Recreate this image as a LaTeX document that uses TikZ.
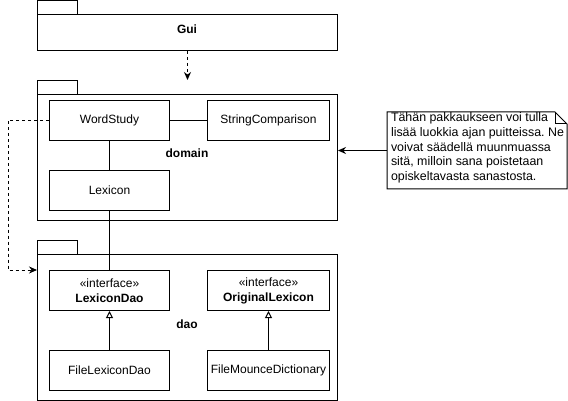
\documentclass[tikz,border=0pt]{standalone}
\usepackage{fontspec}
\setmainfont{Liberation Sans}
\usetikzlibrary{arrows.meta,positioning}

\begin{document}
\begin{tikzpicture}[x=1pt,y=-1pt,line width=1pt,
    font=\fontsize{12}{15}\selectfont]
    \tikzset{pkgtab/.style={draw,anchor=north west,inner sep=0pt,
        minimum width=40pt,minimum height=14pt},
      pkgbody/.style={draw,anchor=north west,inner sep=0pt,
        minimum width=300pt},
      cls/.style={draw,anchor=north west,inner sep=0pt,
        minimum height=40pt,align=center},
      pkgname/.style={font=\fontsize{12}{15}\selectfont\bfseries},
      dep/.style={dash pattern=on 3pt off 3pt,-{Stealth[length=8pt,width=7pt]}},
      realize/.style={-{Triangle[open,length=7pt,width=7pt]}}}
    \useasboundingbox (0,0) rectangle (568,401);
    % packages
    \node[pkgtab] (guitab) at (37,0) {};
    \node[pkgbody,minimum height=36pt] (gui) at (37,14) {};
    \node[pkgname] at (187,29) {Gui};
    \node[pkgtab] (domtab) at (37,80) {};
    \node[pkgbody,minimum height=126pt] (domain) at (37,94) {};
    \node[pkgname] at (187,153) {domain};
    \node[pkgtab] (daotab) at (37,240) {};
    \node[pkgbody,minimum height=146pt] (dao) at (37,254) {};
    \node[pkgname] at (187,324) {dao};
    % domain classes
    \node[cls,minimum width=120pt] (ws) at (49,100) {WordStudy};
    \node[cls,minimum width=122pt] (sc) at (207,100) {StringComparison};
    \node[cls,minimum width=120pt] (lex) at (49,170) {Lexicon};
    % dao classes
    \node[cls,minimum width=120pt] (lexdao) at (49,270)
      {«interface»\\\textbf{LexiconDao}};
    \node[cls,minimum width=122pt] (origlex) at (207,270)
      {«interface»\\\textbf{OriginalLexicon}};
    \node[cls,minimum width=120pt] (fld) at (49,350) {FileLexiconDao};
    \node[cls,minimum width=122pt] (fmd) at (207,350) {FileMounceDictionary};
    % note
    \node[anchor=north west,inner sep=0pt,minimum width=179pt,
      minimum height=76pt] (note) at (387,112) {};
    \draw (note.north west) -- ([xshift=-12pt]note.north east)
      -- ([yshift=-12pt]note.north east) -- (note.south east)
      -- (note.south west) -- cycle;
    \draw ([xshift=-12pt]note.north east) -- ([xshift=-12pt,yshift=-12pt]note.north east)
      -- ([yshift=-12pt]note.north east);
    \node[anchor=west,align=left,inner sep=0pt,
      font=\fontsize{12.4}{14.75}\selectfont\frenchspacing]
      (notetext) at (390.5,148)
      {Tähän pakkaukseen voi tulla\\lisää luokkia ajan puitteissa. Ne\\voivat säädellä muunmuassa\\sitä, milloin sana poistetaan\\opiskeltavasta sanastosta.};
    % connectors
    \draw[dep] (gui.south) -- (gui.south |- domtab.north);
    \draw (ws.east) -- (sc.west);
    \draw (ws.south) -- (lex.north);
    \draw (lex.south) -- (lexdao.north);
    \coordinate (daoin) at (37,270);
    \draw[dep] (ws.west) -- ++(-41,0) |- (daoin);
    \draw[realize] (fld.north) -- (lexdao.south);
    \draw[realize] (fmd.north) -- (origlex.south);
    \draw[-{Stealth[length=8pt,width=7pt]}] (note.west) -- (domain.east |- note.west);
  \end{tikzpicture}
\end{document}
